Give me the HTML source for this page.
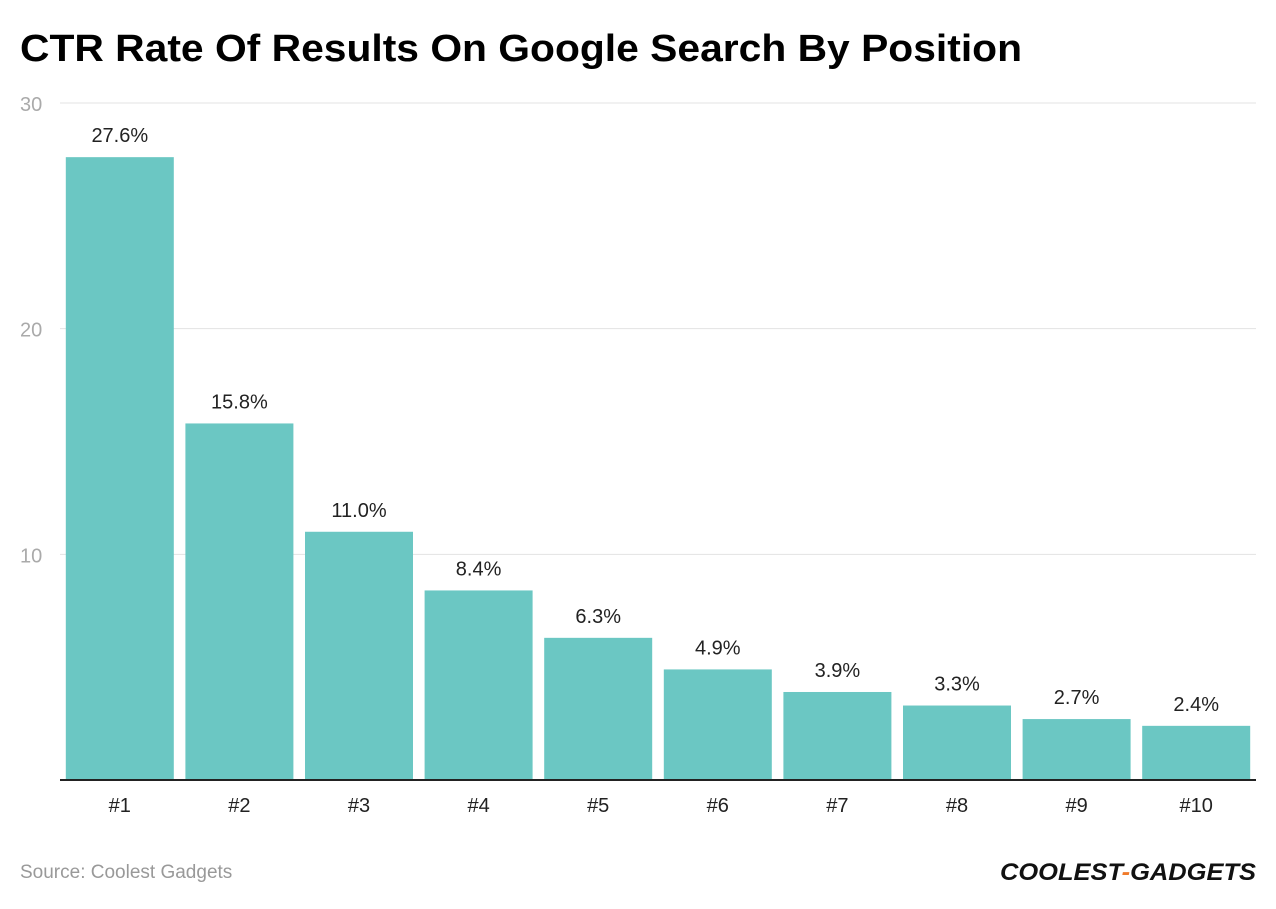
<!DOCTYPE html>
<html><head><meta charset="utf-8"><style>
body{margin:0;background:#fff;width:1276px;height:904px;overflow:hidden;font-family:"Liberation Sans",sans-serif}
</style></head><body>
<svg width="1276" height="904">
<text x="20" y="61" font-size="38" font-weight="bold" fill="#000" textLength="1002" lengthAdjust="spacingAndGlyphs">CTR Rate Of Results On Google Search By Position</text>
<g id="grid"></g>
<g id="bars"></g>
<text x="20" y="878" font-size="19" fill="#999">Source: Coolest Gadgets</text>
<text x="1000" y="880" font-size="24" font-weight="bold" font-style="italic" fill="#111" textLength="256" lengthAdjust="spacingAndGlyphs">COOLEST<tspan fill="#f07a2a">-</tspan>GADGETS</text>
</svg>
<script>
const categories=["#1","#2","#3","#4","#5","#6","#7","#8","#9","#10"];
const values=[27.6,15.8,11.0,8.4,6.3,4.9,3.9,3.3,2.7,2.4];
const labels=["27.6%","15.8%","11.0%","8.4%","6.3%","4.9%","3.9%","3.3%","2.7%","2.4%"];
const ticks=[10,20,30];
const NS="http://www.w3.org/2000/svg";
const x0=60,x1=1256,y0=780,ymax=30,ytop=103;
const y=v=>y0-(y0-ytop)*v/ymax;
const step=(x1-x0)/categories.length,bw=108;
function mk(t,a,p,txt){const e=document.createElementNS(NS,t);for(const k in a)e.setAttribute(k,a[k]);if(txt!=null)e.textContent=txt;p.appendChild(e);return e;}
const g=document.getElementById('grid'),b=document.getElementById('bars');
ticks.forEach(t=>{
 const l=mk('line',{x1:x0,x2:x1,y1:y(t),y2:y(t),stroke:'#e3e3e3','stroke-width':1},g);
 
 
 const tx=mk('text',{x:20,y:y(t)+8,'font-size':20,fill:'#aaa'},g,String(t));
 
 
});
categories.forEach((c,i)=>{
 const cx=x0+step*(i+0.5);
 const r=mk('rect',{x:cx-bw/2,y:y(values[i]),width:bw,height:y0-y(values[i]),fill:'#6bc7c3'},b);
 
 
 const v=mk('text',{x:cx,y:y(values[i])-15,'font-size':20,fill:'#222','text-anchor':'middle'},b,labels[i]);
 
 
 const t=mk('text',{x:cx,y:812,'font-size':20,fill:'#222','text-anchor':'middle'},b,c);
 
 
});
const ax=mk('line',{x1:x0,x2:x1,y1:y0,y2:y0,stroke:'#222','stroke-width':2},b);


</script>
</body></html>
